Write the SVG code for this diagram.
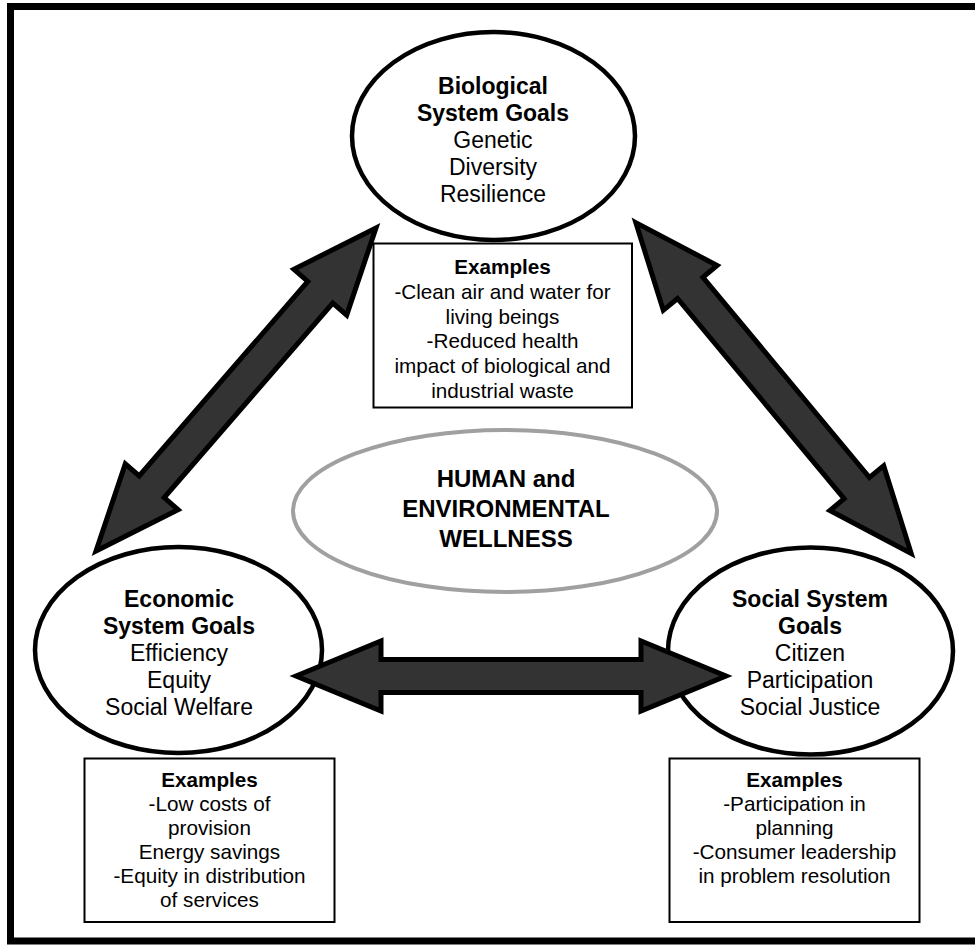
<svg xmlns="http://www.w3.org/2000/svg" width="975" height="948" viewBox="0 0 975 948">
  <style>
    .frame { fill: #ffffff; stroke: #000000; stroke-width: 7; }
    .goal { fill: #ffffff; stroke: #000000; stroke-width: 4.5; }
    .core { fill: #ffffff; stroke: #a0a0a0; stroke-width: 4; }
    .box { fill: #ffffff; stroke: #000000; stroke-width: 2; }
    .arrow { fill: #333333; stroke: #000000; stroke-width: 5; stroke-linejoin: miter; stroke-miterlimit: 10; }
    text { font-family: "Liberation Sans", Arial, sans-serif; fill: #000000; text-anchor: middle; }
    .gt { font-size: 23px; }
    .ex { font-size: 20.7px; }
    .ct { font-size: 24px; font-weight: bold; }
    .b { font-weight: bold; }
  </style>

  <!-- outer frame -->
  <rect class="frame" x="10.5" y="6.5" width="975" height="934.5"/>

  <!-- goal nodes -->
  <g id="biological">
    <ellipse class="goal" cx="493.5" cy="136" rx="141.5" ry="104"/>
    <text class="gt" x="493" y="93.5"><tspan class="b">Biological</tspan><tspan class="b" x="493" dy="27.2">System Goals</tspan><tspan x="493" dy="27.2">Genetic</tspan><tspan x="493" dy="27.2">Diversity</tspan><tspan x="493" dy="27.2">Resilience</tspan></text>
  </g>

  <g id="economic">
    <ellipse class="goal" cx="178.5" cy="650" rx="143.5" ry="103"/>
    <text class="gt" x="179" y="607"><tspan class="b">Economic</tspan><tspan class="b" x="179" dy="27">System Goals</tspan><tspan x="179" dy="27">Efficiency</tspan><tspan x="179" dy="27">Equity</tspan><tspan x="179" dy="27">Social Welfare</tspan></text>
  </g>

  <g id="social">
    <ellipse class="goal" cx="810.5" cy="651" rx="142.5" ry="103.5"/>
    <text class="gt" x="810" y="607"><tspan class="b">Social System</tspan><tspan class="b" x="810" dy="27">Goals</tspan><tspan x="810" dy="27">Citizen</tspan><tspan x="810" dy="27">Participation</tspan><tspan x="810" dy="27">Social Justice</tspan></text>
  </g>

  <g id="wellness">
    <ellipse class="core" cx="505" cy="511" rx="212" ry="81"/>
    <text class="ct" x="506" y="487">HUMAN and<tspan x="506" dy="30">ENVIRONMENTAL</tspan><tspan x="506" dy="30">WELLNESS</tspan></text>
  </g>

  <!-- example boxes -->
  <g id="biological-examples">
    <rect class="box" x="373.5" y="243.5" width="258.5" height="164"/>
    <text class="ex" x="502.5" y="274"><tspan class="b">Examples</tspan><tspan x="502.5" dy="24.8">-Clean air and water for</tspan><tspan x="502.5" dy="24.8">living beings</tspan><tspan x="502.5" dy="24.8">-Reduced health</tspan><tspan x="502.5" dy="24.8">impact of biological and</tspan><tspan x="502.5" dy="24.8">industrial waste</tspan></text>
  </g>

  <g id="economic-examples">
    <rect class="box" x="84.5" y="758.5" width="250" height="163.5"/>
    <text class="ex" x="209.5" y="787"><tspan class="b">Examples</tspan><tspan x="209.5" dy="24">-Low costs of</tspan><tspan x="209.5" dy="24">provision</tspan><tspan x="209.5" dy="24">Energy savings</tspan><tspan x="209.5" dy="24">-Equity in distribution</tspan><tspan x="209.5" dy="24">of services</tspan></text>
  </g>

  <g id="social-examples">
    <rect class="box" x="669.5" y="758.5" width="250" height="163.5"/>
    <text class="ex" x="794.5" y="787"><tspan class="b">Examples</tspan><tspan x="794.5" dy="24">-Participation in</tspan><tspan x="794.5" dy="24">planning</tspan><tspan x="794.5" dy="24">-Consumer leadership</tspan><tspan x="794.5" dy="24">in problem resolution</tspan></text>
  </g>

  <!-- double-headed block arrows -->
  <g id="connectors">
    <polygon class="arrow" points="376,228 346.7,315.1 332.8,303 164.2,497.6 178.1,509.7 96,551 125.3,463.9 139.2,476 307.8,281.4 293.9,269.3"/>
    <polygon class="arrow" points="635.8,222.6 717.1,265.5 702.9,277.3 869.5,477.5 883.7,465.7 911.2,553.4 829.9,510.5 844.1,498.7 677.5,298.5 663.3,310.3"/>
    <polygon class="arrow" points="296,676 381,641 381,659.5 641,659.5 641,641 726,676 641,711 641,692.5 381,692.5 381,711"/>
  </g>
</svg>
